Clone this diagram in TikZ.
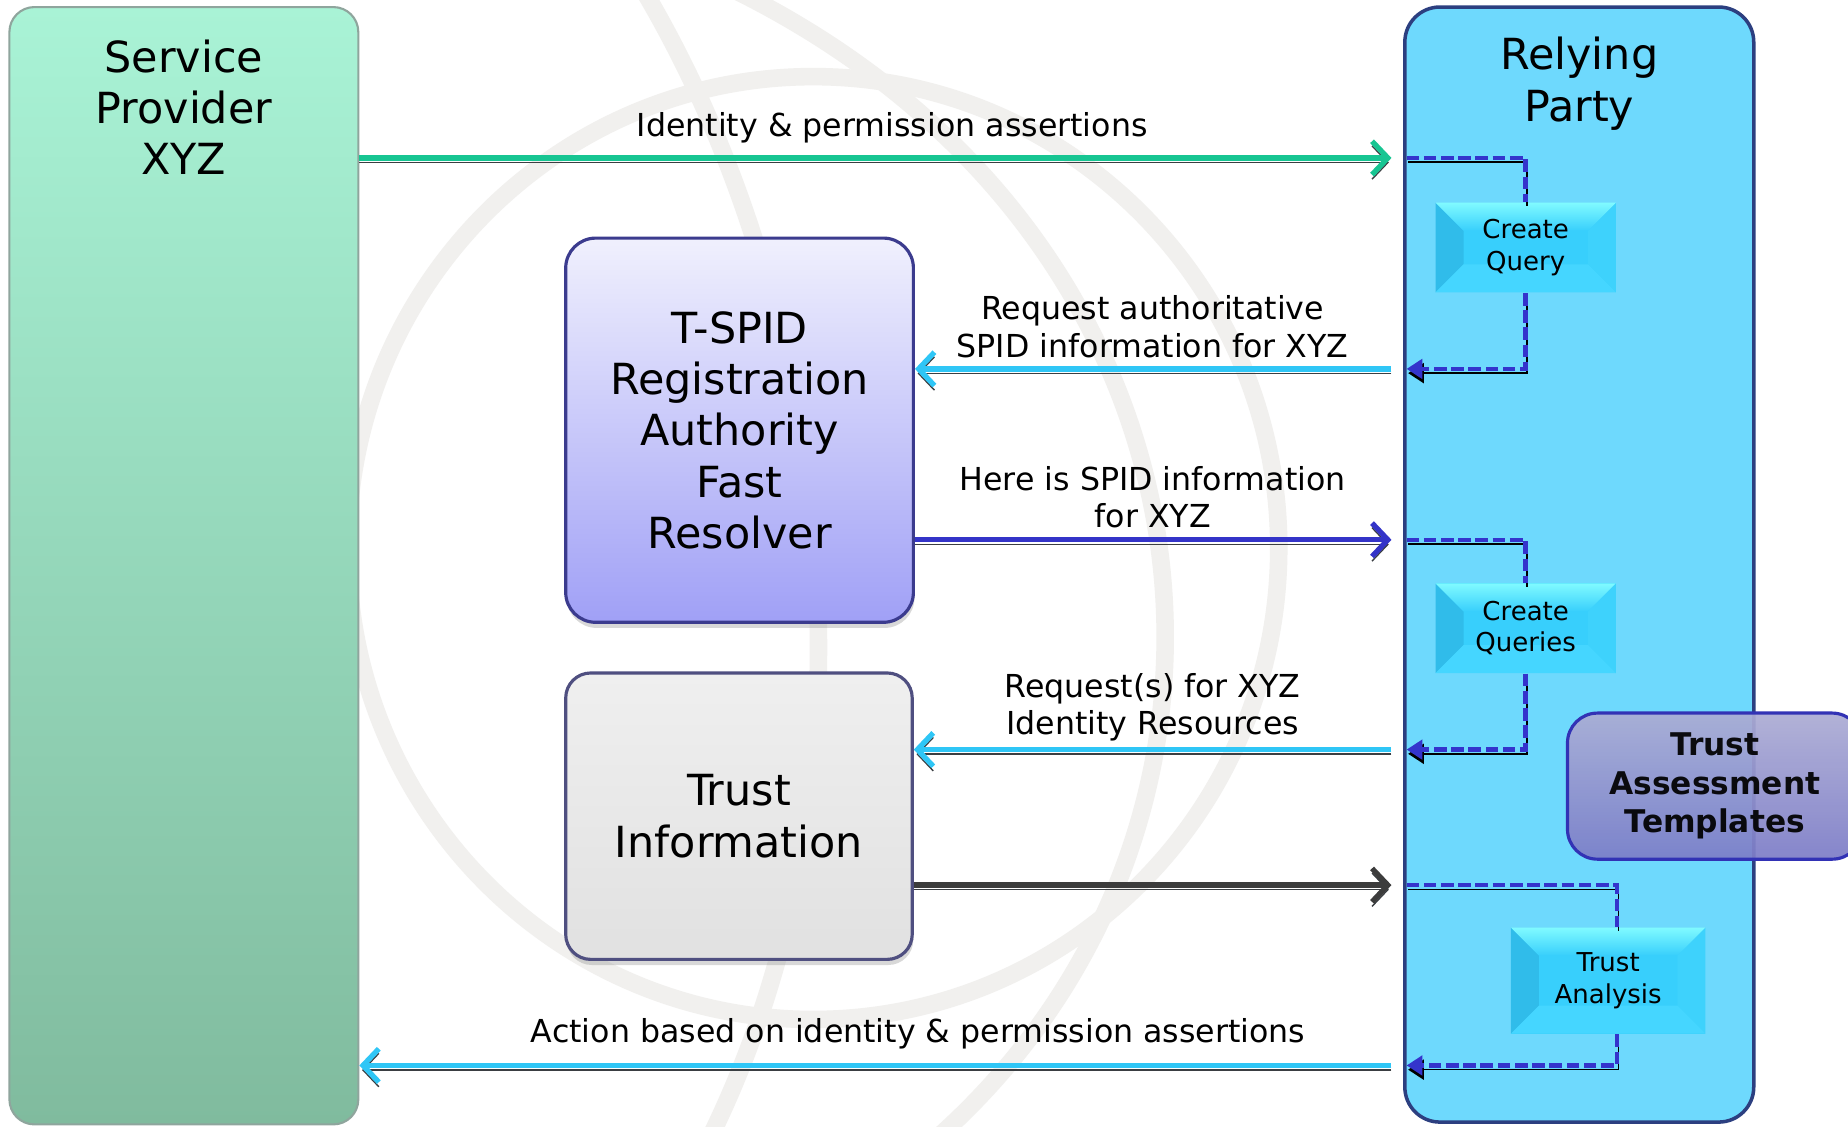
\documentclass[tikz,border=0pt]{standalone}
\usepackage{fontspec}
\setmainfont{DejaVu Sans}
\usetikzlibrary{arrows.meta, calc, shadows}

\definecolor{globeGray}{HTML}{F1F0EE}
\definecolor{spTop}{HTML}{A9F3D6}
\definecolor{spBottom}{HTML}{80BB9E}
\definecolor{spLine}{HTML}{8FA59D}
\definecolor{rpFill}{HTML}{6ED9FD}
\definecolor{rpLine}{HTML}{2C3F80}
\definecolor{tspidTop}{HTML}{F0F0FD}
\definecolor{tspidBottom}{HTML}{A0A0F6}
\definecolor{tspidLine}{HTML}{3B3B8E}
\definecolor{tiTop}{HTML}{EFEFEF}
\definecolor{tiBottom}{HTML}{E1E1E1}
\definecolor{tiLine}{HTML}{4F4F80}
\definecolor{tatTop}{HTML}{ACACD4}
\definecolor{tatBottom}{HTML}{7D7DC8}
\definecolor{tatLine}{HTML}{3232B5}
\definecolor{procFill}{HTML}{38CFFC}
\definecolor{procLeft}{HTML}{30BCEA}
\definecolor{procRight}{HTML}{3ED2FC}
\definecolor{procTop}{HTML}{80FAFF}
\definecolor{procBottom}{HTML}{45D6FF}
\definecolor{msgGreen}{HTML}{17C592}
\definecolor{msgCyan}{HTML}{2FC6F6}
\definecolor{msgBlue}{HTML}{3434C8}
\definecolor{msgDark}{HTML}{3C3C3C}
\definecolor{msgShadow}{HTML}{3A3E42}
\definecolor{flowBlue}{HTML}{3434CC}

\tikzset{
  globe/.style={draw=globeGray, line width=5pt},
  bigtxt/.style={align=center, font=\fontsize{12.2}{14.6}\selectfont},
  lbl/.style={align=center, font=\fontsize{9}{10.7}\selectfont},
  spbox/.style={rectangle, rounded corners=0.25cm, top color=spTop, bottom color=spBottom,
    draw=spLine, line width=0.6pt, minimum width=3.489cm, minimum height=11.173cm},
  rpbox/.style={rectangle, rounded corners=0.35cm, fill=rpFill, draw=rpLine, line width=1pt,
    minimum width=3.489cm, minimum height=11.15cm},
  tspidbox/.style={rectangle, rounded corners=0.3cm, top color=tspidTop, bottom color=tspidBottom,
    draw=tspidLine, line width=0.9pt, minimum width=3.477cm, minimum height=3.842cm,
    align=center, font=\fontsize{12.2}{14.6}\selectfont,
    drop shadow={shadow xshift=0.3pt, shadow yshift=-1.6pt, opacity=0.3}},
  tibox/.style={rectangle, rounded corners=0.25cm, top color=tiTop, bottom color=tiBottom,
    draw=tiLine, line width=0.9pt, minimum width=3.465cm, minimum height=2.864cm,
    align=center, font=\fontsize{12.2}{14.6}\selectfont,
    drop shadow={shadow xshift=0.3pt, shadow yshift=-1.6pt, opacity=0.3}},
  tatbox/.style={rectangle, rounded corners=0.3cm, top color=tatTop, bottom color=tatBottom,
    fill opacity=0.93, draw=tatLine, line width=0.9pt, minimum width=2.947cm, minimum height=1.461cm,
    align=center, font=\bfseries\fontsize{8.9}{10.9}\selectfont},
  procbox/.style={rectangle, fill=procFill, minimum width=1.803cm, minimum height=0.896cm,
    inner sep=0pt, align=center, font=\fontsize{7.4}{9}\selectfont,
    path picture={
      \coordinate (bsw) at (path picture bounding box.south west);
      \coordinate (bse) at (path picture bounding box.south east);
      \coordinate (bnw) at (path picture bounding box.north west);
      \coordinate (bne) at (path picture bounding box.north east);
      \fill[procLeft] (bsw) -- (bnw) -- ($(bnw)+(0.28cm,-0.28cm)$) -- ($(bsw)+(0.28cm,0.28cm)$) -- cycle;
      \fill[procRight] (bse) -- (bne) -- ($(bne)+(-0.28cm,-0.28cm)$) -- ($(bse)+(-0.28cm,0.28cm)$) -- cycle;
      \shade[top color=procTop, bottom color=procFill] (bnw) -- (bne) -- ($(bne)+(-0.28cm,-0.28cm)$) -- ($(bnw)+(0.28cm,-0.28cm)$) -- cycle;
      \fill[procBottom] (bsw) -- (bse) -- ($(bse)+(-0.28cm,0.28cm)$) -- ($(bsw)+(0.28cm,0.28cm)$) -- cycle;
    }},
  msg/.style={draw=#1, line width=1.5pt, -{Straight Barb[length=4.5pt,width=9.5pt]},
    preaction={draw=msgShadow, transform canvas={yshift=-1.3pt}}},
  flow/.style={draw=flowBlue, line width=1.3pt, dash pattern=on 3.6pt off 1.3pt,
    preaction={draw=black, transform canvas={shift={(0.4pt,-1.2pt)}}}},
  flowtip/.style={-{Triangle[length=4.5pt,width=5.5pt]}}
}

\begin{document}
\begin{tikzpicture}[x=0.11786mm, y=-0.11786mm]
\useasboundingbox (0,0) rectangle (1568,956);
\fill[white] (0,0) rectangle (1568,956);

% faint globe behind everything
\begin{scope}
\clip (0,0) rectangle (1568,956);
\draw[globe] (690,465) ellipse [x radius=395, y radius=400];
\draw[globe] (545,-10) .. controls (700,250) and (760,650) .. (600,970);
\draw[globe] (620,-10) .. controls (1050,200) and (1100,700) .. (790,970);
\end{scope}

% the two parties
\node[spbox] (sp) at (156,480) {};
\node[bigtxt] (spname) at (156,91) {Service\\Provider\\XYZ};
\node[rpbox] (rp) at (1340,479) {};
\node[bigtxt] (rpname) at (1340,71) {Relying\\Party};

% resolver and trust store
\node[tspidbox] (tspid) at (627.5,365) {T-SPID\\Registration\\Authority\\Fast\\Resolver};
\node[tibox] (ti) at (627,692.5) {Trust\\Information};

% steps inside the relying party
\node[procbox] (cq) at (1294.5,210) {Create\\Query};
\node[procbox] (cqs) at (1294.5,533) {Create\\Queries};
\node[procbox, minimum width=1.945cm, minimum height=1.061cm] (ta) at (1364.5,832) {Trust\\Analysis};

% message rows
\coordinate (r1) at (0,134);
\coordinate (r2) at (0,313);
\coordinate (r3) at (0,458);
\coordinate (r4) at (0,636);
\coordinate (r5) at (0,751);
\coordinate (r6) at (0,904);
\coordinate (rpin) at ([xshift=1pt]rp.west);

\draw[msg=msgGreen, shorten >=3.3pt] (sp.east |- r1) -- (rp.west |- r1);
\draw[msg=msgCyan, shorten <=3.3pt] (rp.west |- r2) -- (tspid.east |- r2);
\draw[msg=msgBlue, shorten >=3.3pt] (tspid.east |- r3) -- (rp.west |- r3);
\draw[msg=msgCyan, shorten <=3.3pt] (rp.west |- r4) -- (ti.east |- r4);
\draw[msg=msgDark, shorten >=3.3pt] (ti.east |- r5) -- (rp.west |- r5);
\draw[msg=msgCyan, shorten <=3.3pt] (rp.west |- r6) -- (sp.east |- r6);

\node[lbl] (lblid) at (757,108) {Identity \& permission assertions};
\node[lbl] (lblreq) at (978,277) {Request authoritative\\SPID information for XYZ};
\node[lbl] (lblhere) at (978,422) {Here is SPID information\\for XYZ};
\node[lbl] (lblres) at (978,600) {Request(s) for XYZ\\Identity Resources};
\node[lbl] (lblact) at (779,877) {Action based on identity \& permission assertions};

% dashed hand-offs inside the relying party
\draw[flow] (rpin |- r1) -| (cq.north);
\draw[flow, flowtip] (cq.south) |- (rpin |- r2);
\draw[flow] (rpin |- r3) -| (cqs.north);
\draw[flow, flowtip] (cqs.south) |- (rpin |- r4);
\draw[flow] (rpin |- r5) -| ([xshift=2.5pt]ta.north);
\draw[flow, flowtip] ([xshift=2.5pt]ta.south) |- (rpin |- r6);

\node[tatbox] (tat) at (1455,667) {Trust\\Assessment\\Templates};

\end{tikzpicture}
\end{document}
